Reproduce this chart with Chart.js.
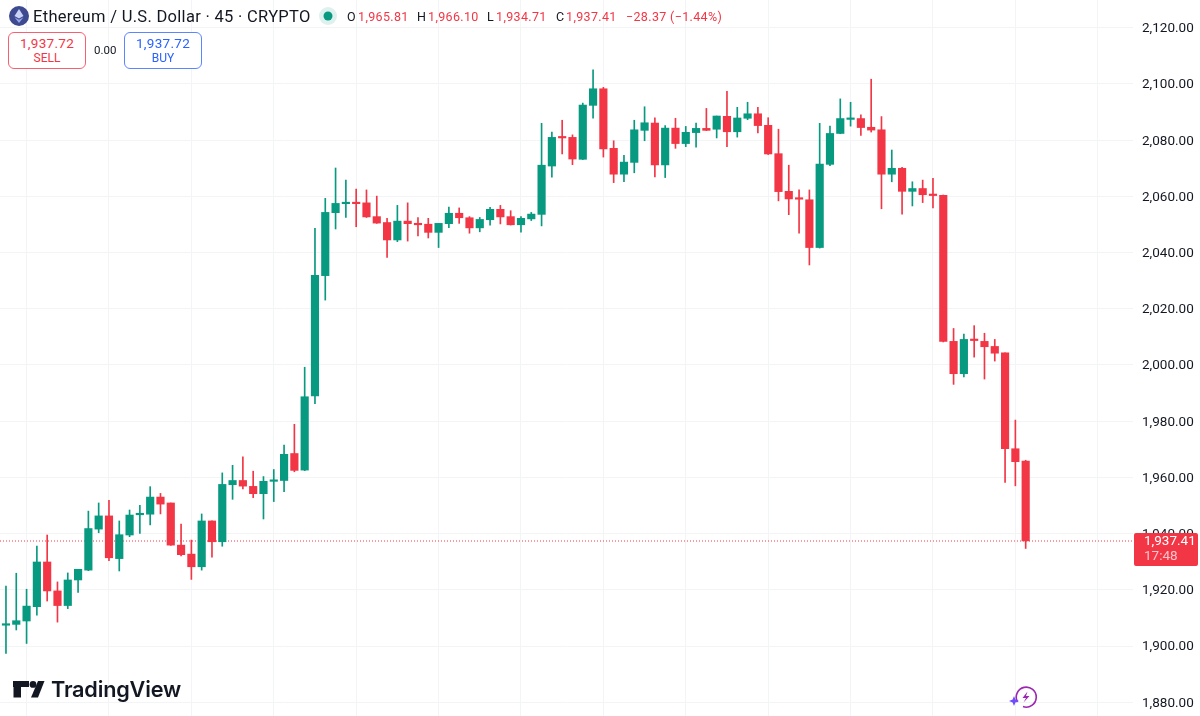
<!DOCTYPE html>
<html>
<head>
<meta charset="utf-8">
<title>ETH/USD 45</title>
<script src="https://cdn.jsdelivr.net/npm/chart.js@4"></script>
<style>
html, body { margin: 0; padding: 0; background: #fff; }
#wrap { position: relative; width: 1200px; height: 716px; overflow: hidden; font-family: Roboto, sans-serif; }
#wrap div, #wrap svg { position: absolute; white-space: nowrap; }
#candleChart { display: block; }
.btn { box-sizing: border-box; top: 32px; width: 78px; height: 37px; border-radius: 6px; border: 1px solid; background: #fff; text-align: center; }
.btn b { display: block; font-weight: 400; font-size: 13.5px; line-height: 15px; margin-top: 3px; letter-spacing: .3px; }
.btn span { display: block; font-size: 12px; line-height: 14px; }
.ohlc { top: 9px; font-size: 12.5px; line-height: 15px; color: #f23645; letter-spacing: .35px; }
.ohlc i { font-style: normal; color: #131722; }
</style>
</head>
<body>
<div id="wrap">
  <canvas id="candleChart" width="1200" height="716"></canvas>

  <svg style="left:9px;top:6px" width="20" height="20" viewBox="0 0 20 20">
    <circle cx="10" cy="10" r="10" fill="#3d4a8f"/>
    <path d="M10 3 L5.5 10 L10 12.6 L14.5 10 Z" fill="#c9d3f5"/>
    <path d="M10 13.8 L5.5 11.2 L10 17 L14.5 11.2 Z" fill="#97a6e6"/>
  </svg>
  <div style="left:33px;top:7px;font-size:16.5px;line-height:19px;color:#131722;letter-spacing:.3px">Ethereum / U.S. Dollar · 45 · CRYPTO</div>
  <svg style="left:319px;top:7px" width="18" height="18" viewBox="0 0 18 18">
    <circle cx="9" cy="9" r="9" fill="#dff1ee"/>
    <circle cx="9" cy="9" r="4.5" fill="#089981"/>
  </svg>
  <div class="ohlc" style="left:347px"><i>O</i></div>
  <div class="ohlc" style="left:358px" id="valO"></div>
  <div class="ohlc" style="left:417px"><i>H</i></div>
  <div class="ohlc" style="left:428px" id="valH"></div>
  <div class="ohlc" style="left:487px"><i>L</i></div>
  <div class="ohlc" style="left:496px" id="valL"></div>
  <div class="ohlc" style="left:556px"><i>C</i></div>
  <div class="ohlc" style="left:566px" id="valC"></div>
  <div class="ohlc" style="left:626px">−28.37 (−1.44%)</div>

  <div class="btn" style="left:8px;border-color:#f7606f;color:#f23645"><b>1,937.72</b><span>SELL</span></div>
  <div style="left:94px;top:43px;font-size:11.5px;line-height:14px;color:#131722">0.00</div>
  <div class="btn" style="left:124px;border-color:#5b86ff;color:#2962ff"><b>1,937.72</b><span>BUY</span></div>

  <svg style="left:13px;top:681px" width="32" height="17" viewBox="0 0 32 17">
    <path d="M0 0H16V6H8V16.5H0.5V6H0Z" fill="#131722"/>
    <circle cx="20" cy="3.4" r="3.4" fill="#131722"/>
    <path d="M25 0H31.5L25 16.5H18Z" fill="#131722"/>
  </svg>
  <div style="left:51px;top:675px;font-family:Inter,sans-serif;font-weight:600;font-size:21.7px;line-height:29px;color:#131722;letter-spacing:-.2px">TradingView</div>

  <svg style="left:1009px;top:685px" width="30" height="24" viewBox="0 0 30 24">
    <path d="M8.5 17 A10 10 0 1 1 14 21.6" fill="none" stroke="#9c27b0" stroke-width="1.6"/>
    <path d="M18.5 6.5 L13.5 13 H17 L14.5 17.5 L20.5 11 H17Z" fill="#9c27b0"/>
    <path d="M5 11 L6.4 14.6 L10 16 L6.4 17.4 L5 21 L3.6 17.4 L0 16 L3.6 14.6Z" fill="#6e4dff"/>
  </svg>
</div>

<script>
var opens = [
  1907.4, 1907.7, 1908.9, 1914.0, 1929.9, 1919.6, 1914.4, 1923.5, 1927.0, 1941.6,
  1946.3, 1931.1, 1939.5, 1946.7, 1946.9, 1953.0, 1950.9, 1935.9, 1932.7, 1928.2,
  1944.5, 1937.1, 1957.4, 1958.9, 1956.8, 1954.2, 1958.6, 1958.9, 1968.5, 1962.6,
  1989.0, 2031.8, 2054.2, 2057.4, 2057.7, 2057.7, 2052.8, 2050.7, 2044.5, 2051.2,
  2050.4, 2050.1, 2047.2, 2050.3, 2054.0, 2052.4, 2048.8, 2051.7, 2055.4, 2052.8,
  2049.9, 2052.0, 2053.6, 2070.8, 2081.0, 2081.0, 2073.2, 2092.4, 2098.3, 2077.1,
  2067.9, 2072.1, 2083.5, 2086.1, 2071.2, 2084.3, 2078.8, 2082.7, 2084.2, 2083.9,
  2088.5, 2083.0, 2087.8, 2089.4, 2085.3, 2075.2, 2061.8, 2059.3, 2058.8, 2041.8,
  2071.4, 2082.4, 2087.4, 2087.7, 2084.6, 2083.7, 2067.9, 2070.0, 2061.8, 2062.8,
  2060.7, 2060.4, 2008.4, 1996.9, 2009.1, 2008.4, 2006.6, 2004.3, 1970.2, 1965.81
];
var highs = [
  1921.3, 1925.9, 1920.2, 1935.6, 1939.5, 1922.8, 1926.0, 1927.3, 1948.0, 1950.9,
  1951.8, 1944.5, 1948.4, 1950.1, 1956.7, 1954.3, 1950.9, 1943.4, 1937.7, 1947.0,
  1944.5, 1961.6, 1964.3, 1967.3, 1962.2, 1960.3, 1962.8, 1971.5, 1978.9, 1999.2,
  2048.6, 2059.3, 2070.1, 2065.8, 2062.6, 2062.3, 2060.1, 2052.2, 2056.8, 2057.7,
  2052.5, 2052.2, 2050.4, 2056.2, 2055.9, 2052.8, 2052.5, 2056.1, 2056.8, 2054.9,
  2052.8, 2054.3, 2086.0, 2082.9, 2087.1, 2081.9, 2093.2, 2105.0, 2098.8, 2079.8,
  2074.6, 2087.1, 2091.9, 2088.0, 2085.2, 2087.8, 2084.9, 2086.1, 2091.3, 2088.6,
  2097.4, 2091.7, 2093.5, 2091.7, 2088.0, 2083.9, 2071.1, 2062.3, 2062.3, 2086.0,
  2085.0, 2094.7, 2093.5, 2089.0, 2101.7, 2088.4, 2076.5, 2070.3, 2065.2, 2065.8,
  2066.4, 2060.5, 2013.0, 2011.0, 2014.0, 2011.3, 2009.1, 2004.3, 1980.4, 1966.10
];
var lows = [
  1897.4, 1905.7, 1900.9, 1911.0, 1916.0, 1908.5, 1913.3, 1919.1, 1926.8, 1940.3,
  1930.4, 1926.7, 1938.9, 1940.1, 1943.1, 1947.0, 1935.8, 1932.1, 1923.7, 1927.0,
  1931.6, 1935.5, 1952.2, 1955.9, 1952.8, 1945.2, 1951.4, 1954.9, 1962.0, 1962.4,
  1986.2, 2023.1, 2048.4, 2052.5, 2049.2, 2052.5, 2050.4, 2038.3, 2043.9, 2044.1,
  2045.9, 2045.2, 2041.8, 2048.9, 2050.4, 2046.9, 2047.4, 2049.8, 2050.2, 2049.8,
  2047.3, 2051.4, 2049.5, 2066.8, 2075.1, 2071.3, 2073.1, 2087.8, 2074.0, 2064.9,
  2065.2, 2068.4, 2079.8, 2066.9, 2066.7, 2077.1, 2077.7, 2077.5, 2083.4, 2080.8,
  2077.7, 2081.1, 2087.3, 2082.6, 2074.9, 2058.4, 2053.5, 2046.9, 2035.6, 2041.6,
  2070.9, 2082.3, 2085.0, 2081.7, 2082.9, 2055.6, 2065.2, 2053.7, 2056.6, 2057.8,
  2055.9, 2008.2, 1993.1, 1995.8, 2002.8, 1995.0, 2001.4, 1958.2, 1957.0, 1934.71
];
var closes = [
  1907.8, 1909.0, 1914.2, 1929.9, 1919.6, 1914.4, 1923.5, 1927.3, 1941.8, 1946.3,
  1931.4, 1939.6, 1946.6, 1947.0, 1953.0, 1950.5, 1935.9, 1932.5, 1928.2, 1944.5,
  1937.1, 1957.5, 1958.9, 1956.9, 1954.2, 1958.6, 1958.9, 1968.2, 1962.5, 1988.7,
  2031.9, 2054.3, 2057.5, 2057.7, 2057.4, 2052.7, 2050.5, 2044.5, 2051.2, 2050.3,
  2049.9, 2047.2, 2050.4, 2054.0, 2052.4, 2048.8, 2051.8, 2055.4, 2052.7, 2049.9,
  2052.2, 2053.7, 2071.1, 2081.0, 2080.8, 2073.3, 2092.5, 2098.3, 2076.9, 2067.9,
  2072.2, 2083.7, 2086.2, 2071.2, 2084.3, 2078.8, 2082.8, 2084.2, 2083.5, 2088.6,
  2083.0, 2087.9, 2089.4, 2085.2, 2075.1, 2061.7, 2059.1, 2059.0, 2041.8, 2071.5,
  2082.4, 2087.7, 2087.8, 2084.5, 2083.6, 2067.9, 2070.0, 2061.8, 2062.8, 2060.6,
  2060.3, 2008.4, 1996.9, 2009.1, 2008.7, 2006.5, 2004.2, 1970.2, 1965.6, 1937.41
];
var priceTicks = [1880, 1900, 1920, 1940, 1960, 1980, 2000, 2020, 2040, 2060, 2080, 2100, 2120];
var timeGridBars = [2, 10, 18, 26, 34, 42, 50, 58, 66, 74, 82, 90, 98, 106];
var lastPrice = 1937.41;
var countdown = '17:48';

var UP = '#089981';
var DOWN = '#f23645';
var GRID = '#f3f4f6';

function fmt(v) {
  return v.toLocaleString('en-US', { minimumFractionDigits: 2, maximumFractionDigits: 2 });
}
function candleColor(ctx) {
  var i = ctx.dataIndex;
  return closes[i] >= opens[i] ? UP : DOWN;
}

var n = closes.length - 1;
document.getElementById('valO').textContent = fmt(opens[n]);
document.getElementById('valH').textContent = fmt(highs[n]);
document.getElementById('valL').textContent = fmt(lows[n]);
document.getElementById('valC').textContent = fmt(closes[n]);

// last price line goes under the candles, the tag over the axis labels
var lastPricePlugin = {
  id: 'lastPrice',
  beforeDatasetsDraw: function (chart) {
    var c = chart.ctx, a = chart.chartArea;
    // on a whole pixel on purpose, it comes out soft and pink like the reference
    var y = Math.round(chart.scales.y.getPixelForValue(lastPrice));
    c.save();
    c.strokeStyle = DOWN;
    c.lineWidth = 1;
    c.setLineDash([1, 2]);
    c.beginPath();
    c.moveTo(a.left, y);
    c.lineTo(a.right, y);
    c.stroke();
    c.restore();
  },
  afterDraw: function (chart) {
    var c = chart.ctx;
    var y = chart.scales.y.getPixelForValue(lastPrice);
    c.save();
    c.fillStyle = DOWN;
    c.beginPath();
    c.roundRect(1134, y - 8, 64, 33, 2);
    c.fill();
    c.textBaseline = 'middle';
    c.textAlign = 'left';
    c.font = '13.5px Roboto, sans-serif';
    c.fillStyle = '#ffffff';
    c.fillText(fmt(lastPrice), 1144, y + 0.5);
    c.fillStyle = '#fbc4ca';
    c.fillText(countdown, 1144, y + 15.5);
    c.restore();
  }
};

var ctx = document.getElementById('candleChart').getContext('2d');
var myChart = new Chart(ctx, {
  type: 'bar',
  plugins: [lastPricePlugin],
  data: {
    datasets: [
      {
        label: 'Wick',
        data: lows.map(function (v, i) { return { x: i, y: [v, highs[i]] }; }),
        backgroundColor: candleColor,
        barThickness: 1,
        grouped: false,
        order: 2
      },
      {
        label: 'Body',
        data: opens.map(function (v, i) { return { x: i, y: [v, closes[i]] }; }),
        backgroundColor: candleColor,
        barThickness: 7.5,
        minBarLength: 1.5,
        grouped: false,
        order: 1
      }
    ]
  },
  options: {
    responsive: false,
    animation: false,
    layout: { padding: 0 },
    plugins: { legend: { display: false }, tooltip: { enabled: false } },
    scales: {
      x: {
        type: 'linear',
        offset: false,
        min: -0.58,
        max: 109.42,
        grid: { color: GRID, drawTicks: false, offset: false },
        border: { display: false },
        ticks: { display: false },
        afterBuildTicks: function (s) {
          s.ticks = timeGridBars.map(function (v) { return { value: v }; });
        },
        afterFit: function (s) { s.height = 0; }
      },
      y: {
        position: 'right',
        min: 1875.09,
        max: 2129.89,
        grid: { color: GRID, drawTicks: false },
        border: { display: false },
        ticks: {
          padding: 9,
          labelOffset: 1,
          color: '#131722',
          font: { family: 'Roboto, sans-serif', size: 13.5 },
          callback: function (v) { return fmt(v); }
        },
        afterBuildTicks: function (s) {
          s.ticks = priceTicks.map(function (v) { return { value: v }; });
        },
        afterFit: function (s) {
          // fill the full canvas height, no room reserved for end labels
          s.width = 67;
          s.paddingTop = 0;
          s.paddingBottom = 0;
        }
      }
    }
  }
});
</script>
</body>
</html>
